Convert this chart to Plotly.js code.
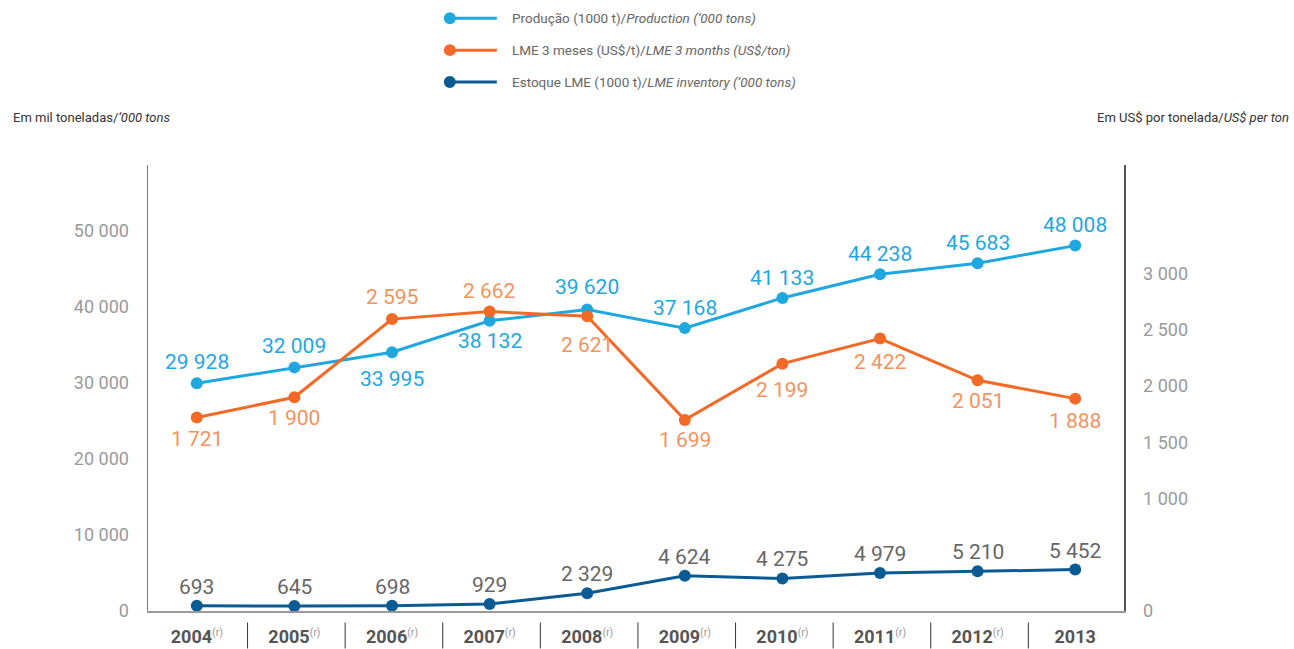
<!DOCTYPE html>
<html><head><meta charset="utf-8">
<script src="https://cdn.plot.ly/plotly-3.0.1.min.js"></script>
<style>html,body{margin:0;padding:0;background:#fff}#chart{width:1294px;height:649px}</style>
</head><body><div id="chart"></div>
<script>
// ---- data ----
const years = ['2004','2005','2006','2007','2008','2009','2010','2011','2012','2013'];
const revised = [true,true,true,true,true,true,true,true,true,false];
const production = [29928,32009,33995,38132,39620,37168,41133,44238,45683,48008];
const price = [1721,1900,2595,2662,2621,1699,2199,2422,2051,1888];
const inventory = [693,645,698,929,2329,4624,4275,4979,5210,5452];
const leftTicks = [0,10000,20000,30000,40000,50000];
const rightTicks = [0,1000,1500,2000,2500,3000];

// ---- label placement (style) ----
const prodShift  = [21,21,-27,-20,22,20,20,20,20,21];
const priceShift = [-22,-21,22,21,-29,-20,-26,-23,-21,-22];
const invShift   = [19,19,19,19,19,19,19,19,19,19];

// ---- layout geometry ----
const W = 1294, H = 649;
const M = {l:148, r:169.5, t:165, b:37.5};
const PW = W - M.l - M.r, PH = H - M.t - M.b;
const px = v => (v - M.l) / PW;
const py = v => (H - M.b - v) / PH;

const C_PROD = '#1FA7E0', C_PRICE = '#F26A25', C_PRICE_TXT = '#F5935C', C_INV = '#0A5B93';
const NUM_FONT = 'Roboto, Arial, sans-serif';
const TXT_FONT = 'Roboto, Arial, sans-serif';

const fmt = n => String(n).replace(/\B(?=(\d{3})+(?!\d))/g, ' ');
const idx = years.map((_, i) => i);

function series(vals, color, yaxis, name) {
  return {x: idx, y: vals, yaxis: yaxis, name: name, type: 'scatter', mode: 'lines+markers',
    line: {color: color, width: 3}, marker: {color: color, size: 12}, cliponaxis: false,
    hoverinfo: 'skip', showlegend: false};
}
const traces = [
  series(inventory, C_INV, 'y', 'Estoque LME'),
  series(production, C_PROD, 'y', 'Produção'),
  series(price, C_PRICE, 'y2', 'LME 3 meses')
];

const annotations = [];
function labels(vals, shifts, color, yref) {
  vals.forEach((v, i) => annotations.push({x: i, y: v, xref: 'x', yref: yref, text: fmt(v),
    showarrow: false, xanchor: 'center', yanchor: 'middle', yshift: shifts[i],
    font: {family: NUM_FONT, size: 21, color: color}}));
}
labels(production, prodShift, C_PROD, 'y');
labels(price, priceShift, C_PRICE_TXT, 'y2');
labels(inventory, invShift, '#666666', 'y');

// unit titles
annotations.push({xref: 'paper', yref: 'paper', x: px(11), y: py(117), xanchor: 'left', yanchor: 'middle',
  showarrow: false, text: 'Em mil toneladas/<i>‘000 tons</i>', font: {family: TXT_FONT, size: 13, color: '#333'}});
annotations.push({xref: 'paper', yref: 'paper', x: px(1292), y: py(117), xanchor: 'right', yanchor: 'middle',
  showarrow: false, text: 'Em US$ por tonelada/<i>US$ per ton</i>', font: {family: TXT_FONT, size: 13, color: '#333'}});

// custom legend
const legendItems = [
  {color: C_PROD, text: 'Produção (1000 t)/<i>Production (‘000 tons)</i>', y: 18},
  {color: C_PRICE, text: 'LME 3 meses (US$/t)/<i>LME 3 months (US$/ton)</i>', y: 50},
  {color: C_INV, text: 'Estoque LME (1000 t)/<i>LME inventory (‘000 tons)</i>', y: 82}
];
const shapes = [];
legendItems.forEach(it => {
  shapes.push({type: 'line', xref: 'paper', yref: 'paper', x0: px(450), x1: px(497), y0: py(it.y), y1: py(it.y),
    line: {color: it.color, width: 3}});
  shapes.push({type: 'circle', xref: 'paper', yref: 'paper', x0: px(444), x1: px(456), y0: py(it.y + 6), y1: py(it.y - 6),
    fillcolor: it.color, line: {width: 0}});
  annotations.push({xref: 'paper', yref: 'paper', x: px(510), y: py(it.y), xanchor: 'left', yanchor: 'middle',
    showarrow: false, text: it.text, font: {family: TXT_FONT, size: 13.5, color: '#666'}});
});

// category separators under the axis
for (let i = 0; i < years.length - 1; i++) {
  shapes.push({type: 'line', xref: 'x', yref: 'paper', x0: i + 0.52, x1: i + 0.52, y0: py(623), y1: py(649),
    line: {color: '#333', width: 1}});
}

const tickText = years.map((y, i) => revised[i]
  ? '<b>' + y + '</b><span style="color:#999;font-size:15px"><sup>(r)</sup></span>' : '<b>' + y + '</b>');

const layout = {
  width: W, height: H,
  margin: {l: M.l, r: M.r, t: M.t, b: M.b, pad: 0},
  paper_bgcolor: '#fff', plot_bgcolor: '#fff',
  separators: ', ',
  showlegend: false,
  xaxis: {range: [-0.5, 9.5], tickvals: idx, ticktext: tickText, showgrid: false, zeroline: false,
    showline: true, linecolor: '#999', linewidth: 2, ticks: '', ticklabelstandoff: 8,
    tickfont: {family: NUM_FONT, size: 18, color: '#555'}, fixedrange: true},
  yaxis: {range: [0, 58600], tickvals: leftTicks, tickformat: ',d', showgrid: false, zeroline: false,
    showline: true, linecolor: '#777', linewidth: 1.5, ticks: '', ticklabelstandoff: 14,
    tickfont: {family: NUM_FONT, size: 18, color: '#9a9a9a'}, fixedrange: true},
  yaxis2: {range: [0, 3965], overlaying: 'y', side: 'right', tickvals: rightTicks, tickformat: ',d',
    showgrid: false, zeroline: false, showline: true, linecolor: '#555', linewidth: 1.5, ticks: '',
    ticklabelstandoff: 14, tickfont: {family: NUM_FONT, size: 18, color: '#9a9a9a'}, fixedrange: true},
  annotations: annotations,
  shapes: shapes
};

Plotly.newPlot('chart', traces, layout, {displayModeBar: false, staticPlot: true});
</script></body></html>
